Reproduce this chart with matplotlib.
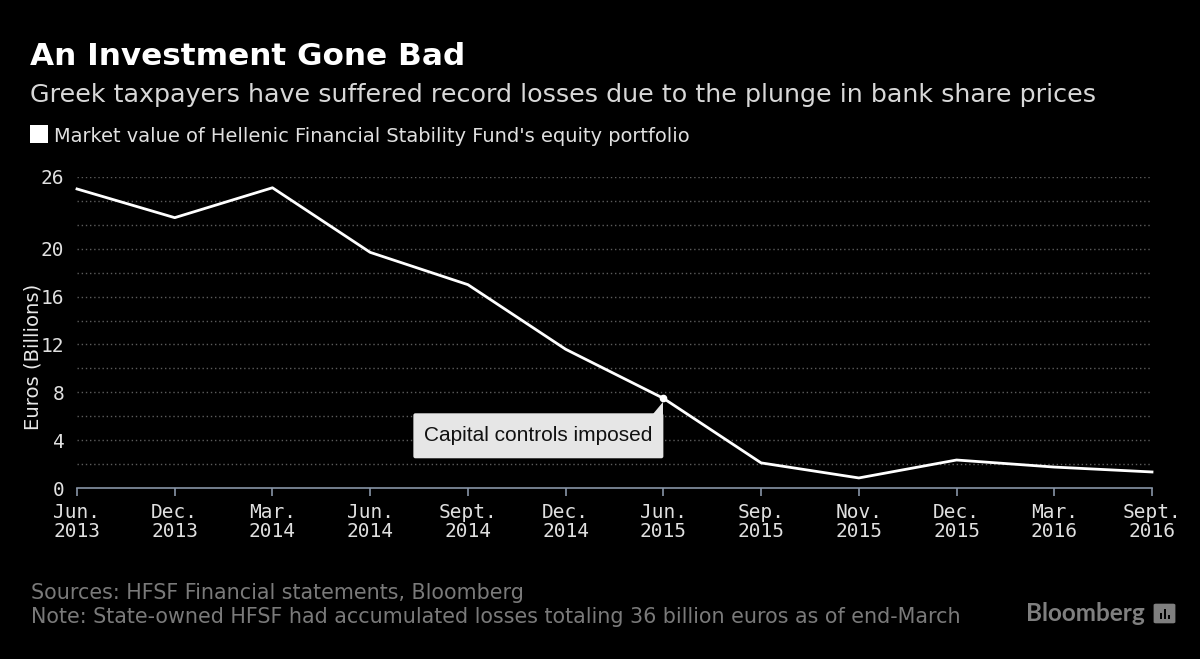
import matplotlib
matplotlib.use("Agg")
import matplotlib.pyplot as plt
import matplotlib.transforms as mtransforms
from matplotlib.patches import Rectangle, FancyBboxPatch, Polygon

# ==========================================
# Data
# ==========================================

period_labels = ["Jun.\n2013", "Dec.\n2013", "Mar.\n2014", "Jun.\n2014",
                 "Sept.\n2014", "Dec.\n2014", "Jun.\n2015", "Sep.\n2015",
                 "Nov.\n2015", "Dec.\n2015", "Mar.\n2016", "Sept.\n2016"]
market_value = [25.0, 22.6, 25.1, 19.7, 17.0, 11.6, 7.5, 2.1, 0.84, 2.34, 1.75, 1.34]

ytick_values = [0, 4, 8, 12, 16, 20, 26]
grid_values = list(range(2, 27, 2))

note_index = 6
note_text = "Capital controls imposed"

title = "An Investment Gone Bad"
subtitle = "Greek taxpayers have suffered record losses due to the plunge in bank share prices"
legend_text = "Market value of Hellenic Financial Stability Fund's equity portfolio"
ylabel = "Euros (Billions)"
source_text = "Sources: HFSF Financial statements, Bloomberg"
note_line = "Note: State-owned HFSF had accumulated losses totaling 36 billion euros as of end-March"

# ==========================================
# Figure
# ==========================================

W, H = 1200, 659
fig = plt.figure(figsize=(W / 100, H / 100), dpi=100, facecolor="black")


def px(x, y):
    # pixel position (from top-left) -> figure fraction
    return x / W, 1 - y / H


def fit(txt, size_px, vertical=False):
    # scale a text so it spans the wanted pixel length
    r = fig.canvas.get_renderer()
    bb = txt.get_window_extent(r)
    cur = bb.height if vertical else bb.width
    txt.set_fontsize(txt.get_fontsize() * size_px / cur)


left, right, y0, y26 = 77, 1152, 488, 177
ax = fig.add_axes([left / W, 1 - y0 / H, (right - left) / W, (y0 - y26) / H])
ax.set_facecolor("black")

x = list(range(len(market_value)))
ax.plot(x, market_value, color="white", lw=2, clip_on=False, zorder=3)

ax.set_xlim(0, len(x) - 1)
ax.set_ylim(0, 26)

for g in grid_values:
    ax.axhline(g, color="#5c5c5c", lw=1, ls=(0, (1, 2)), zorder=1)

for s in ["top", "right", "left"]:
    ax.spines[s].set_visible(False)
ax.spines["bottom"].set_color("#8794a6")
ax.spines["bottom"].set_linewidth(1.2)

ax.set_xticks(x)
ax.set_xticklabels(period_labels, family="DejaVu Sans Mono", fontsize=14,
                   color="#e0e0e0", linespacing=1.0)
ax.tick_params(axis="x", direction="out", length=6, width=1.2, color="#8794a6", pad=5)

ax.set_yticks(ytick_values)
ax.set_yticklabels([str(v) for v in ytick_values], family="DejaVu Sans Mono",
                   fontsize=14, color="#e0e0e0")
ax.tick_params(axis="y", length=0, pad=9)

yl = fig.text(*px(33, 357), ylabel, rotation=90, ha="center", va="center",
              family="DejaVu Sans", fontsize=13.5, color="#e8e8e8")

# ==========================================
# Annotation
# ==========================================

trans = fig.dpi_scale_trans + mtransforms.ScaledTranslation(
    note_index, market_value[note_index], ax.transData)
ax.add_patch(FancyBboxPatch((-2.48, -0.58), 2.46, 0.41, boxstyle="round,pad=0.02",
                            fc="#e6e6e6", ec="none", transform=trans, clip_on=False, zorder=4))
ax.add_patch(Polygon([(-0.10, -0.16), (0.0, -0.16), (0.0, -0.04)], closed=True,
                     fc="#e6e6e6", ec="none", transform=trans, clip_on=False, zorder=4))
ax.plot([note_index], [market_value[note_index]], "o", ms=4.5, color="white", zorder=5,
        clip_on=False)
note = ax.text(-1.25, -0.375, note_text, transform=trans, ha="center", va="center",
               family="Liberation Sans", fontsize=15, color="#111111", zorder=6)

# ==========================================
# Titles and footer
# ==========================================

t = fig.text(*px(30, 65), title, ha="left", va="baseline", fontsize=25,
             fontweight="bold", color="white", family="DejaVu Sans")
st = fig.text(*px(30, 102), subtitle, ha="left", va="baseline", fontsize=17,
              color="#d8d8d8", family="DejaVu Sans")
fig.patches.append(Rectangle(px(30, 143), 18 / W, 18 / H, transform=fig.transFigure,
                             fc="white", ec="none"))
lt = fig.text(*px(54, 142), legend_text, ha="left", va="baseline", fontsize=13,
              color="#e0e0e0", family="DejaVu Sans")
s1 = fig.text(*px(31, 599), source_text, ha="left", va="baseline", fontsize=13.5,
              color="#7a7a7a", family="DejaVu Sans")
s2 = fig.text(*px(31, 623), note_line, ha="left", va="baseline", fontsize=13.5,
              color="#7a7a7a", family="DejaVu Sans")
bb = fig.text(*px(1026, 621), "Bloomberg", ha="left", va="baseline", fontsize=16,
              fontweight="bold", color="#7f7f7f", family="Lato")

fit(t, 435)
fit(st, 1068)
fit(lt, 633)
fit(s1, 493)
fit(s2, 932)
fit(note, 229)
fit(bb, 119)
fit(yl, 146, vertical=True)

# little logo mark next to the wordmark
fig.patches.append(FancyBboxPatch(px(1156, 622), 17 / W, 17 / H, transform=fig.transFigure,
                                  boxstyle="round,pad=0.002", fc="#7f7f7f", ec="none"))
for bx, bh in [(1160, 6), (1164, 10), (1168, 4)]:
    fig.patches.append(Rectangle(px(bx, 619), 2 / W, bh / H, transform=fig.transFigure,
                                 fc="black", ec="none"))

fig.savefig("out.png", dpi=100, facecolor="black")
